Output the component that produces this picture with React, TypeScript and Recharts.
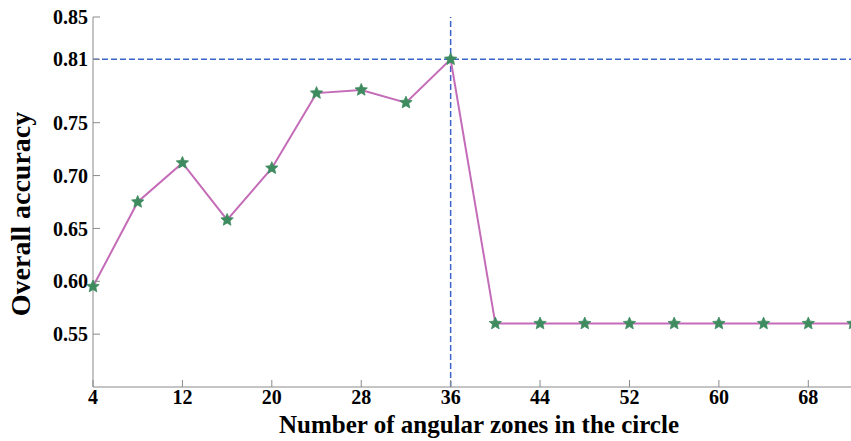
import React from 'react';
import {
    LineChart,
    Line,
    XAxis,
    YAxis,
    ReferenceLine,
} from 'recharts';

// angular zone counts and the overall accuracy reached with each
const zones = [4, 8, 12, 16, 20, 24, 28, 32, 36, 40, 44, 48, 52, 56, 60, 64, 68, 72];
const accuracy = [
    0.595, 0.675, 0.712, 0.658, 0.707, 0.778, 0.781, 0.769, 0.81,
    0.56, 0.56, 0.56, 0.56, 0.56, 0.56, 0.56, 0.56, 0.56,
];

const xTicks = [4, 12, 20, 28, 36, 44, 52, 60, 68];
const yTicks = [0.55, 0.6, 0.65, 0.7, 0.75, 0.81, 0.85];

// best setting, marked by the dashed cross-hair
const bestZones = 36;
const bestAccuracy = 0.81;

const data = zones.map((z, i) => ({ zones: z, accuracy: accuracy[i] }));

const FONT = "'Liberation Serif', 'Times New Roman', serif";
const AXIS = '#8a8a8a';
const LINE = '#c46cb8';
const STAR = '#3d8b5f';
const GUIDE = '#3a64c8';

const tickStyle = { fill: '#000', fontFamily: FONT, fontWeight: 700, fontSize: 20 };

// five-pointed star marker
const StarDot = (props: any) => {
    const { cx, cy, index } = props;
    if (cx == null || cy == null) return null;
    const outer = 6.5;
    const inner = 3;
    const pts: string[] = [];
    for (let k = 0; k < 10; k++) {
        const r = k % 2 === 0 ? outer : inner;
        const a = -Math.PI / 2 + (k * Math.PI) / 5;
        pts.push(`${(cx + r * Math.cos(a)).toFixed(2)},${(cy + r * Math.sin(a)).toFixed(2)}`);
    }
    return <polygon key={`star-${index}`} points={pts.join(' ')} fill={STAR} stroke={STAR} strokeWidth={0.8} />;
};

// rotated y-axis title, sitting a little below the plot's middle
const YTitle = (props: any) => {
    const vb = props.viewBox || { x: 0, y: 0, width: 0, height: 0 };
    const x = vb.x + 30;
    const y = vb.y + vb.height / 2 + 12;
    return (
        <text
            x={x}
            y={y}
            transform={`rotate(-90 ${x} ${y})`}
            textAnchor="middle"
            fill="#000"
            fontFamily={FONT}
            fontWeight={700}
            fontSize={28}
        >
            Overall accuracy
        </text>
    );
};

export default function App() {
    return (
        <div style={{ position: 'absolute', left: 0, top: 0, width: 851, height: 441, overflow: 'hidden', background: '#fff' }}>
            <LineChart
                width={858}
                height={441}
                data={data}
                margin={{ top: 17, right: 5, left: 0, bottom: 0 }}
            >
                <XAxis
                    dataKey="zones"
                    type="number"
                    domain={[4, 72]}
                    ticks={xTicks}
                    interval={0}
                    height={54}
                    stroke={AXIS}
                    tickSize={-7}
                    tickMargin={10}
                    tick={tickStyle}
                    label={{
                        value: 'Number of angular zones in the circle',
                        position: 'insideBottom',
                        offset: 8,
                        dx: 6,
                        style: { fill: '#000', fontFamily: FONT, fontWeight: 700, fontSize: 25 },
                    }}
                />
                <XAxis
                    xAxisId="top"
                    orientation="top"
                    type="number"
                    domain={[4, 72]}
                    ticks={xTicks}
                    interval={0}
                    height={0}
                    stroke={AXIS}
                    tickSize={-7}
                    tick={false}
                />
                <YAxis
                    type="number"
                    domain={[0.5, 0.85]}
                    ticks={yTicks}
                    interval={0}
                    width={93}
                    stroke={AXIS}
                    tickSize={-7}
                    tickMargin={12}
                    tick={tickStyle}
                    tickFormatter={(v: number) => v.toFixed(2)}
                    label={<YTitle />}
                />
                <YAxis
                    yAxisId="right"
                    orientation="right"
                    type="number"
                    domain={[0.5, 0.85]}
                    ticks={yTicks}
                    interval={0}
                    width={0}
                    stroke={AXIS}
                    tickSize={-7}
                    tick={false}
                />
                <ReferenceLine x={bestZones} stroke={GUIDE} strokeWidth={1.5} strokeDasharray="6 3" />
                <ReferenceLine y={bestAccuracy} stroke={GUIDE} strokeWidth={1.5} strokeDasharray="6 3" />
                <Line
                    type="linear"
                    dataKey="accuracy"
                    stroke={LINE}
                    strokeWidth={2}
                    dot={<StarDot />}
                    activeDot={false}
                    isAnimationActive={false}
                />
            </LineChart>
        </div>
    );
}
